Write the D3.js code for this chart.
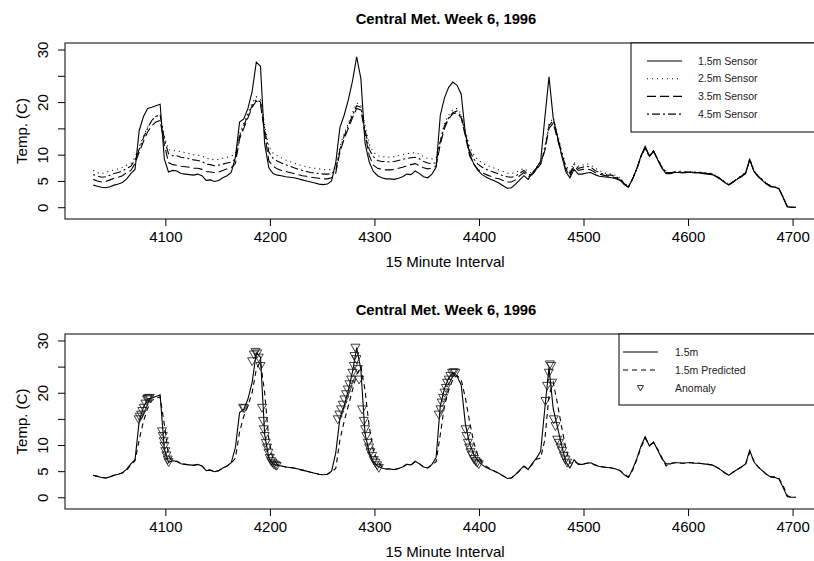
<!DOCTYPE html>
<html>
<head>
<meta charset="utf-8">
<script src="https://cdn.jsdelivr.net/npm/d3@7/dist/d3.min.js"></script>
<style>
  body { margin: 0; background: #fff; }
  svg { display: block; font-family: 'Liberation Sans', Arial, Helvetica, sans-serif; }
</style>
</head>
<body>
<svg id="chart" width="814" height="561"></svg>
<script>
// 15 minute interval index (read every 4 steps)
const interval = [
  4031, 4035, 4039, 4043, 4047, 4051, 4055, 4059, 4063, 4067,
  4071, 4075, 4079, 4083, 4087, 4091, 4095, 4099, 4103, 4107,
  4111, 4115, 4119, 4123, 4127, 4131, 4135, 4139, 4143, 4147,
  4151, 4155, 4159, 4163, 4167, 4171, 4175, 4179, 4183, 4187,
  4191, 4195, 4199, 4203, 4207, 4211, 4215, 4219, 4223, 4227,
  4231, 4235, 4239, 4243, 4247, 4251, 4255, 4259, 4263, 4267,
  4271, 4275, 4279, 4283, 4287, 4291, 4295, 4299, 4303, 4307,
  4311, 4315, 4319, 4323, 4327, 4331, 4335, 4339, 4343, 4347,
  4351, 4355, 4359, 4363, 4367, 4371, 4375, 4379, 4383, 4387,
  4391, 4395, 4399, 4403, 4407, 4411, 4415, 4419, 4423, 4427,
  4431, 4435, 4439, 4443, 4447, 4451, 4455, 4459, 4463, 4467,
  4471, 4475, 4479, 4483, 4487, 4491, 4495, 4499, 4503, 4507,
  4511, 4515, 4519, 4523, 4527, 4531, 4535, 4539, 4543, 4547,
  4551, 4555, 4559, 4563, 4567, 4571, 4575, 4579, 4583, 4587,
  4591, 4595, 4599, 4603, 4607, 4611, 4615, 4619, 4623, 4627,
  4631, 4635, 4639, 4643, 4647, 4651, 4655, 4659, 4663, 4667,
  4671, 4675, 4679, 4683, 4687, 4691, 4695, 4699, 4703
]

const sensor15 = [
  4.2, 4.0, 3.8, 3.7, 3.9, 4.2, 4.4, 4.7, 5.4, 6.4,
  7.2, 14.6, 17.2, 18.8, 19.0, 19.3, 19.6, 9.2, 6.7, 7.0,
  6.9, 6.4, 6.3, 6.2, 6.1, 6.3, 6.0, 5.1, 5.2, 4.9,
  5.1, 5.6, 6.0, 6.6, 9.5, 16.2, 16.8, 18.8, 22.0, 27.6,
  26.8, 12.0, 7.5, 6.4, 6.1, 6.0, 5.8, 5.7, 5.6, 5.4,
  5.2, 5.0, 4.8, 4.6, 4.4, 4.3, 4.4, 5.0, 8.5, 15.2,
  17.5, 20.4, 24.0, 28.6, 24.5, 12.2, 8.6, 6.8, 6.0, 5.6,
  5.4, 5.4, 5.3, 5.5, 5.8, 6.3, 6.2, 6.9, 6.4, 5.8,
  5.6, 6.3, 7.6, 17.5, 20.8, 22.8, 23.8, 23.2, 21.5, 14.0,
  10.3, 8.2, 7.0, 6.2, 5.7, 5.3, 5.0, 4.6, 4.1, 3.6,
  3.7, 4.4, 5.2, 6.0, 5.3, 6.5, 7.5, 8.8, 17.0, 24.8,
  17.0, 13.5, 10.0, 6.8, 5.6, 7.2, 6.3, 6.3, 6.5, 6.6,
  6.2, 5.9, 5.8, 5.7, 5.6, 5.4, 5.1, 4.3, 3.8, 5.4,
  7.4, 9.8, 11.6, 9.8, 10.6, 9.0, 7.4, 6.4, 6.4, 6.6,
  6.6, 6.5, 6.6, 6.6, 6.5, 6.5, 6.4, 6.3, 6.2, 5.8,
  5.3, 4.7, 4.2, 4.8, 5.3, 5.8, 6.4, 9.0, 6.8, 5.8,
  5.1, 4.4, 3.9, 3.8, 3.5, 1.8, 0.1, 0.0, 0.0
]

const sensor25 = [
  7.0, 6.6, 6.4, 6.6, 6.9, 7.1, 7.3, 7.6, 8.0, 8.3,
  9.5, 11.5, 13.5, 15.2, 16.5, 17.3, 17.6, 13.5, 11.0, 10.7,
  10.8, 10.5, 10.4, 10.2, 10.0, 9.9, 9.8, 9.3, 9.2, 9.0,
  9.1, 9.3, 9.5, 9.7, 10.2, 14.0, 16.0, 18.0, 19.8, 21.0,
  20.5, 15.5, 11.5, 10.3, 9.8, 9.4, 9.0, 8.7, 8.4, 8.1,
  7.9, 7.7, 7.5, 7.4, 7.3, 7.2, 7.1, 7.2, 7.6, 11.5,
  14.0, 16.0, 18.0, 19.8, 19.5, 15.5, 12.0, 10.5, 9.8, 9.6,
  9.6, 9.5, 9.6, 9.8, 10.0, 10.2, 10.3, 10.4, 10.1, 9.6,
  9.3, 9.2, 9.3, 12.8, 16.0, 17.5, 18.5, 18.8, 17.8, 14.5,
  11.5, 10.0, 9.0, 8.4, 8.0, 7.7, 7.4, 7.1, 6.8, 6.5,
  6.4, 6.6, 7.0, 7.4, 6.8, 6.4, 7.6, 8.5, 11.5, 16.0,
  17.0, 14.0, 10.8, 8.0, 6.8, 8.5, 7.8, 8.0, 8.3, 8.0,
  7.4, 7.0, 6.6, 6.3, 6.4, 6.0, 5.6, 4.6, 4.0, 5.5,
  7.3, 9.6, 11.2, 9.6, 10.8, 9.2, 7.8, 6.9, 6.6, 6.8,
  6.9, 6.8, 6.8, 6.8, 6.7, 6.7, 6.6, 6.5, 6.4, 6.0,
  5.5, 4.9, 4.4, 4.9, 5.5, 6.0, 6.6, 9.2, 7.0, 6.0,
  5.3, 4.6, 4.1, 3.9, 3.6, 2.0, 0.2, 0.0, 0.0
]

const sensor35 = [
  5.3, 5.0, 4.8, 4.9, 5.2, 5.5, 5.7, 6.0, 6.6, 7.0,
  8.3, 10.5, 12.5, 14.3, 15.5, 16.2, 16.5, 12.0, 8.5, 8.1,
  8.0, 7.8, 7.7, 7.6, 7.4, 7.4, 7.2, 6.8, 6.7, 6.6,
  6.7, 7.0, 7.3, 7.5, 8.3, 13.0, 15.0, 17.0, 19.0, 20.2,
  19.6, 14.0, 8.8, 7.8, 7.3, 7.0, 6.8, 6.6, 6.4, 6.2,
  6.0, 5.9, 5.7, 5.6, 5.5, 5.4, 5.4, 5.6, 6.5, 10.5,
  13.0, 15.0, 17.0, 18.8, 18.5, 14.0, 9.8, 8.0, 7.4, 7.2,
  7.1, 7.1, 7.2, 7.4, 7.6, 7.9, 8.1, 8.3, 7.9, 7.5,
  7.3, 7.4, 7.8, 12.0, 15.0, 16.8, 17.8, 18.0, 17.0, 13.5,
  9.8, 8.2, 7.2, 6.6, 6.2, 5.9, 5.6, 5.4, 5.1, 4.8,
  4.8, 5.2, 6.0, 6.6, 5.8, 6.2, 7.2, 8.2, 10.8, 15.0,
  16.0, 13.0, 10.0, 7.2, 6.0, 7.8, 7.0, 7.2, 7.3, 7.1,
  6.6, 6.3, 6.1, 5.9, 5.8, 5.6, 5.2, 4.4, 3.8, 5.4,
  7.3, 9.7, 11.4, 9.7, 10.7, 9.1, 7.5, 6.6, 6.5, 6.7,
  6.7, 6.6, 6.7, 6.7, 6.6, 6.6, 6.5, 6.4, 6.3, 5.9,
  5.4, 4.8, 4.3, 4.8, 5.4, 5.9, 6.5, 9.1, 6.9, 5.9,
  5.2, 4.5, 4.0, 3.8, 3.5, 1.8, 0.1, 0.0, 0.0
]

const sensor45 = [
  6.2, 5.9, 5.7, 5.8, 6.1, 6.4, 6.6, 6.9, 7.4, 7.8,
  9.0, 11.0, 13.2, 15.0, 16.5, 17.3, 17.5, 13.0, 10.2, 9.8,
  9.8, 9.5, 9.4, 9.2, 9.0, 8.9, 8.7, 8.2, 8.1, 7.9,
  8.0, 8.2, 8.4, 8.6, 9.2, 13.5, 15.5, 17.5, 19.3, 20.5,
  20.0, 14.8, 10.5, 9.3, 8.8, 8.4, 8.1, 7.8, 7.5, 7.2,
  7.0, 6.8, 6.6, 6.5, 6.4, 6.3, 6.3, 6.4, 7.0, 11.0,
  13.5, 15.5, 17.5, 19.3, 19.0, 14.8, 11.0, 9.6, 8.9, 8.7,
  8.7, 8.6, 8.7, 8.9, 9.1, 9.3, 9.4, 9.5, 9.2, 8.7,
  8.4, 8.3, 8.5, 12.5, 15.5, 17.0, 18.0, 18.3, 17.3, 14.0,
  10.8, 9.2, 8.2, 7.6, 7.2, 6.9, 6.6, 6.3, 6.0, 5.8,
  5.7, 5.9, 6.5, 7.0, 6.2, 6.2, 7.3, 8.3, 11.0, 15.5,
  16.5, 13.5, 10.4, 7.6, 6.4, 8.2, 7.4, 7.6, 7.8, 7.6,
  7.0, 6.6, 6.3, 6.1, 6.1, 5.8, 5.4, 4.5, 3.9, 5.4,
  7.3, 9.6, 11.3, 9.6, 10.7, 9.1, 7.6, 6.7, 6.5, 6.7,
  6.7, 6.6, 6.7, 6.7, 6.6, 6.6, 6.5, 6.4, 6.3, 5.9,
  5.4, 4.8, 4.3, 4.8, 5.4, 5.9, 6.5, 9.1, 6.9, 5.9,
  5.2, 4.5, 4.0, 3.9, 3.5, 1.9, 0.1, 0.0, 0.0
]

const predicted15 = [
  4.2, 4.0, 3.8, 3.7, 3.9, 4.2, 4.4, 4.7, 5.2, 6.2,
  7.0, 11.0, 14.5, 17.0, 18.5, 19.0, 19.2, 14.0, 8.0, 6.8,
  6.9, 6.4, 6.3, 6.2, 6.1, 6.3, 6.0, 5.2, 5.2, 4.9,
  5.1, 5.6, 6.0, 6.5, 7.5, 12.5, 15.5, 17.5, 20.0, 24.5,
  26.0, 20.0, 11.0, 7.2, 6.3, 6.0, 5.8, 5.7, 5.6, 5.4,
  5.2, 5.0, 4.8, 4.6, 4.4, 4.3, 4.4, 4.9, 5.5, 11.0,
  14.5, 17.5, 20.5, 23.5, 25.0, 20.5, 13.5, 9.0, 6.8, 5.9,
  5.4, 5.4, 5.3, 5.5, 5.8, 6.3, 6.2, 6.8, 6.4, 5.8,
  5.6, 6.2, 6.8, 12.0, 17.5, 20.5, 22.5, 23.3, 22.5, 19.0,
  14.5, 10.5, 8.0, 6.6, 5.9, 5.4, 5.0, 4.6, 4.1, 3.7,
  3.7, 4.3, 5.1, 5.9, 5.4, 6.3, 7.3, 7.5, 11.0, 19.5,
  22.0, 18.0, 13.5, 9.5, 6.5, 6.8, 6.4, 6.3, 6.5, 6.6,
  6.2, 5.9, 5.8, 5.7, 5.6, 5.4, 5.1, 4.4, 3.9, 5.2,
  7.2, 9.5, 11.3, 10.0, 10.4, 9.2, 7.6, 6.0, 6.5, 6.6,
  6.6, 6.5, 6.6, 6.6, 6.5, 6.5, 6.4, 6.3, 6.2, 5.8,
  5.3, 4.7, 4.2, 4.8, 5.3, 5.8, 6.3, 8.6, 7.0, 5.8,
  5.1, 4.4, 3.9, 3.9, 3.6, 2.2, 0.3, 0.0, 0.0
]

// flagged anomalies, at the observed 1.5m value
const anomalyInterval = [
  4074.5, 4075.5, 4076.8, 4078, 4079.3, 4080.9, 4082.5, 4083, 4084.1, 4085,
  4096.8, 4097.5, 4098.4, 4099.1, 4100, 4101, 4102.3, 4103.2,
  4174.4, 4175.5, 4183, 4184.6, 4186.2, 4187.8, 4189.3, 4191,
  4192.5, 4193.5, 4194.1, 4195.1, 4196, 4197.3, 4198.6, 4199.9, 4201.2, 4202.4, 4203.7, 4205.3, 4206.5,
  4264.9, 4266.5, 4268.1, 4269.7, 4271.3, 4272.9, 4274.5, 4276.1, 4277.7, 4279, 4280.2, 4280.9, 4281.8, 4282.8, 4284.1, 4285.3,
  4288.2, 4289.8, 4291.1, 4292.3, 4293.6, 4294.9, 4296.2, 4297.8, 4299.4, 4301, 4302.6, 4304.2,
  4361.6, 4363.2, 4364.4, 4365.7, 4367, 4368.3, 4369.5, 4371.1, 4372.7, 4374.3, 4375.9, 4377.5,
  4387.1, 4388, 4389.3, 4390.6, 4391.9, 4393.5, 4395.1, 4396.7, 4398.2, 4399.8,
  4463.6, 4465.2, 4466.8, 4467.8, 4469.1, 4470, 4471.6, 4473.2, 4474.8, 4476.4, 4478, 4479.6, 4481.2, 4482.8, 4484.4
]
const anomalyTemp = [
  14.9, 15.4, 15.8, 16.5, 17.1, 17.9, 18.7, 18.9, 18.9, 19.0,
  12.6, 11.7, 10.7, 9.8, 8.8, 8.0, 7.2, 6.7,
  17.1, 17.0, 26.0, 27.3, 27.8, 27.5, 26.7, 25.1,
  17.1, 14.6, 13.0, 11.7, 10.4, 9.5, 8.5, 7.5, 6.9, 6.6, 6.3, 6.1, 6.0,
  14.9, 15.8, 16.8, 17.7, 18.7, 19.7, 20.6, 21.6, 22.5, 23.8, 25.1, 27.0, 28.6, 26.4, 24.5, 22.5,
  16.8, 14.6, 13.0, 11.7, 10.4, 9.5, 8.6, 7.9, 7.1, 6.6, 6.1, 5.6,
  15.8, 16.8, 18.1, 19.0, 20.0, 20.9, 21.9, 22.5, 23.2, 23.8, 23.9, 23.8,
  13.0, 11.7, 10.4, 9.5, 8.6, 8.0, 7.3, 6.9, 6.6, 6.3,
  18.4, 21.3, 23.8, 25.4, 25.1, 21.9, 14.9, 13.6, 11.0, 10.4, 9.5, 8.8, 7.9, 7.2, 6.6
]

const xTicks = [4100, 4200, 4300, 4400, 4500, 4600, 4700]
const yTicks = [0, 5, 10, 15, 20, 25, 30]
const yTickLabels = [0, 5, 10, 20, 30]

const title = 'Central Met. Week 6, 1996'
const xTitle = '15 Minute Interval'
const yTitle = 'Temp. (C)'

const triangle = (s) => `M ${-s} ${-s * 0.8} L ${s} ${-s * 0.8} L 0 ${s * 0.95} Z`

const svg = d3.select('#chart')

const drawPanel = (opts) => {
  const { id, top, bottom, series, legend, anomalies } = opts
  const left = 65
  const right = 825

  const x = d3.scaleLinear().domain([4004, 4731]).range([left, right])
  const y = d3.scaleLinear().domain([-2.24, 31.24]).range([bottom, top])

  const g = svg.append('g')

  g.append('clipPath').attr('id', id)
    .append('rect')
    .attr('x', left).attr('y', top)
    .attr('width', right - left).attr('height', bottom - top)

  const plot = g.append('g').attr('clip-path', `url(#${id})`)

  const line = d3.line()
    .x((d, i) => x(interval[i]))
    .y((d) => y(d))

  series.forEach((s) => {
    plot.append('path')
      .datum(s.values)
      .attr('d', line)
      .attr('fill', 'none')
      .attr('stroke', '#000')
      .attr('stroke-width', 1.1)
      .attr('stroke-dasharray', s.dash)
  })

  if (anomalies) {
    plot.selectAll('path.anomaly')
      .data(anomalyInterval)
      .enter()
      .append('path')
      .attr('class', 'anomaly')
      .attr('d', triangle(4.5))
      .attr('transform', (d, i) => `translate(${x(d)},${y(anomalyTemp[i])})`)
      .attr('fill', 'none')
      .attr('stroke', '#111')
      .attr('stroke-width', 0.8)
  }

  // box round the plot region
  g.append('rect')
    .attr('x', left).attr('y', top)
    .attr('width', right - left).attr('height', bottom - top)
    .attr('fill', 'none')
    .attr('stroke', '#000')
    .attr('stroke-width', 1)

  const xAxis = g.append('g')
    .attr('transform', `translate(0,${bottom})`)
    .call(d3.axisBottom(x).tickValues(xTicks).tickSize(7).tickPadding(5)
      .tickFormat(d3.format('d')))
  xAxis.select('.domain').remove()
  xAxis.selectAll('text').attr('font-size', 15).attr('font-family', null)

  const yAxis = g.append('g')
    .attr('transform', `translate(${left},0)`)
    .call(d3.axisLeft(y).tickValues(yTicks).tickSize(7)
      .tickFormat((d) => yTickLabels.includes(d) ? d : ''))
  yAxis.select('.domain').remove()
  yAxis.selectAll('text')
    .attr('x', null).attr('dy', null)
    .attr('transform', 'translate(-17,0) rotate(-90)')
    .attr('text-anchor', 'middle')
    .attr('font-size', 15)
    .attr('font-family', null)

  g.append('text')
    .attr('x', 446).attr('y', top - 19)
    .attr('text-anchor', 'middle')
    .attr('font-size', 14.8)
    .attr('font-weight', 'bold')
    .text(title)

  g.append('text')
    .attr('x', 445).attr('y', bottom + 48)
    .attr('text-anchor', 'middle')
    .attr('font-size', 15)
    .text(xTitle)

  g.append('text')
    .attr('transform', `translate(27,${(top + bottom) / 2}) rotate(-90)`)
    .attr('text-anchor', 'middle')
    .attr('font-size', 15)
    .text(yTitle)

  // legend in the top right corner
  const lg = g.append('g')
  lg.append('rect')
    .attr('x', legend.x).attr('y', top)
    .attr('width', right - legend.x).attr('height', legend.height)
    .attr('fill', '#fff')
    .attr('stroke', '#000')
    .attr('stroke-width', 1)

  const item = lg.selectAll('g.item')
    .data(legend.items)
    .enter()
    .append('g')
    .attr('class', 'item')
    .attr('transform', (d, i) => `translate(0,${top + legend.first + i * legend.step})`)

  item.filter((d) => d.dash !== 'point')
    .append('line')
    .attr('x1', legend.x1).attr('x2', legend.x2)
    .attr('stroke', '#000')
    .attr('stroke-width', 1.1)
    .attr('stroke-dasharray', (d) => d.dash)

  item.filter((d) => d.dash === 'point')
    .append('path')
    .attr('d', triangle(3))
    .attr('transform', `translate(${(legend.x1 + legend.x2) / 2},0)`)
    .attr('fill', 'none')
    .attr('stroke', '#111')
    .attr('stroke-width', 0.9)

  item.append('text')
    .attr('x', legend.tx)
    .attr('dy', '0.35em')
    .attr('font-size', 10.5)
    .attr('fill', '#222')
    .text((d) => d.label)
}

drawPanel({
  id: 'clip-top',
  top: 43,
  bottom: 219,
  series: [
    { values: sensor15, dash: null },
    { values: sensor25, dash: '1,4' },
    { values: sensor35, dash: '9,4' },
    { values: sensor45, dash: '2,3,8,3' }
  ],
  legend: {
    x: 631, height: 89, first: 18, step: 17.7, x1: 647, x2: 682, tx: 698,
    items: [
      { label: '1.5m Sensor', dash: null },
      { label: '2.5m Sensor', dash: '1,4' },
      { label: '3.5m Sensor', dash: '9,4' },
      { label: '4.5m Sensor', dash: '2,3,8,3' }
    ]
  }
})

drawPanel({
  id: 'clip-bottom',
  top: 334,
  bottom: 509,
  anomalies: true,
  series: [
    { values: sensor15, dash: null },
    { values: predicted15, dash: '5,4' }
  ],
  legend: {
    x: 619, height: 71, first: 18, step: 18, x1: 623, x2: 658, tx: 675,
    items: [
      { label: '1.5m', dash: null },
      { label: '1.5m Predicted', dash: '5,4' },
      { label: 'Anomaly', dash: 'point' }
    ]
  }
})
</script>
</body>
</html>
